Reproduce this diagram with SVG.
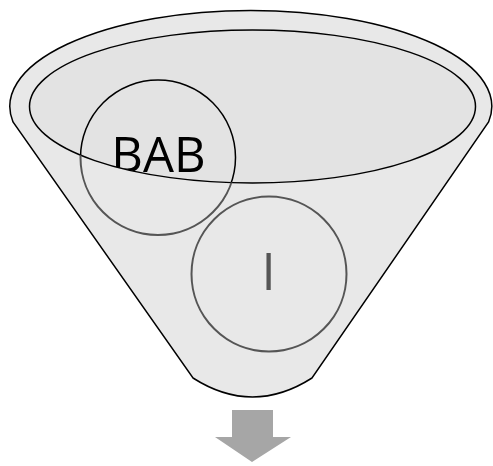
<svg xmlns="http://www.w3.org/2000/svg" width="493" height="466" viewBox="0 0 493 466">
<defs>
<style>
.ln{stroke:#000;stroke-width:1.5;fill:none}
.gray{stroke:#555;stroke-width:2;fill:none}
</style>
<path id="funnel" d="M13,122 A241,96 0 1,1 488.6,122 L312,378 Q252.5,416 193,378 Z"/>
<clipPath id="front">
<path clip-rule="evenodd" d="M0,0 H493 V466 H0 Z M29.5,106.5 a223,76.5 0 1,0 446,0 a223,76.5 0 1,0 -446,0 Z"/>
</clipPath>
</defs>
<g id="funnel-body">
<use href="#funnel" fill="#e8e8e8"/>
<ellipse cx="252.5" cy="106.5" rx="223" ry="76.5" fill="#e3e3e3"/>
</g>
<g id="node-bab">
<circle cx="158" cy="157.5" r="77.5" fill="#fff" class="ln"/>
<text x="158.5" y="172" font-family="'Open Sans', 'Liberation Sans', sans-serif" font-size="49" text-anchor="middle" fill="#000">BAB</text>
</g>
<g id="funnel-front">
<path fill="#e8e8e8" fill-rule="evenodd" d="M13,122 A241,96 0 1,1 488.6,122 L312,378 Q252.5,416 193,378 Z M29.5,106.5 a223,76.5 0 1,0 446,0 a223,76.5 0 1,0 -446,0 Z"/>
<use href="#funnel" class="ln"/>
<ellipse cx="252.5" cy="106.5" rx="223" ry="76.5" class="ln"/>
<circle cx="158" cy="157.5" r="77.5" class="gray" clip-path="url(#front)"/>
</g>
<g id="node-i">
<circle cx="269" cy="274" r="77.5" class="gray"/>
<text x="268.5" y="290" font-family="'Open Sans', 'Liberation Sans', sans-serif" font-size="51" text-anchor="middle" fill="#555">I</text>
</g>
<g id="connectors">
<path d="M232,410 H273 V437 H291 L252,462 L215,437 H232 Z" fill="#a6a6a6"/>
</g>
</svg>
